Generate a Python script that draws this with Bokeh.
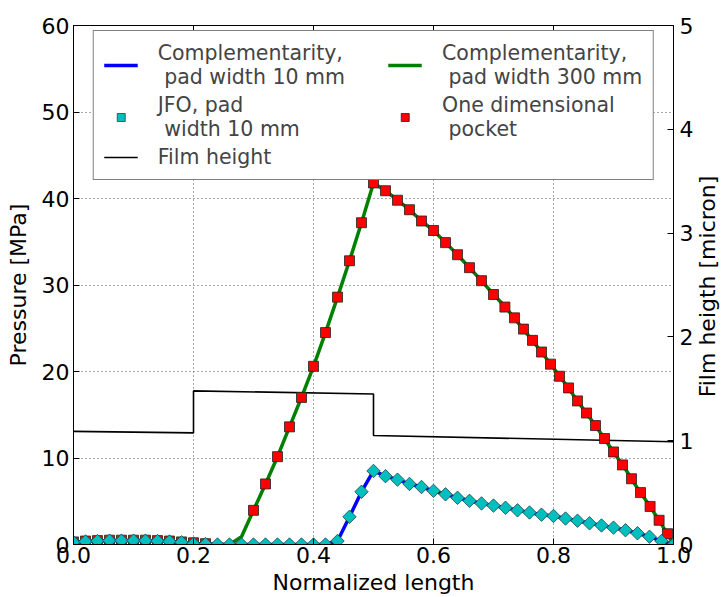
from bokeh.plotting import figure
from bokeh.models import (Range1d, LinearAxis, FixedTicker, Legend, LegendItem,
                          PrintfTickFormatter, Label)
from bokeh.embed import file_html
from bokeh.resources import INLINE
from math import pi

# ---------------- data ----------------
x_grid = [0.00, 0.02, 0.04, 0.06, 0.08, 0.10, 0.12, 0.14, 0.16, 0.18,
          0.20, 0.22, 0.24, 0.26, 0.28, 0.30, 0.32, 0.34, 0.36, 0.38,
          0.40, 0.42, 0.44, 0.46, 0.48, 0.50, 0.52, 0.54, 0.56, 0.58,
          0.60, 0.62, 0.64, 0.66, 0.68, 0.70, 0.72, 0.74, 0.76, 0.78,
          0.80, 0.82, 0.84, 0.86, 0.88, 0.90, 0.92, 0.94, 0.96, 0.98, 1.00]

# Complementarity, pad width 10 mm (blue line)
comp10 = [0.25, 0.35, 0.40, 0.45, 0.45, 0.45, 0.45, 0.40, 0.35, 0.25,
          0.10, 0.05, 0.0, 0.0, 0.0, 0.0, 0.0, 0.0, 0.0, 0.0,
          0.0, 0.0, 0.40, 3.20, 6.10, 8.50, 7.90, 7.50, 7.00, 6.65,
          6.20, 5.80, 5.40, 5.05, 4.75, 4.50, 4.25, 3.95, 3.70, 3.45,
          3.30, 3.00, 2.75, 2.45, 2.20, 1.95, 1.65, 1.30, 0.90, 0.40, 0.0]

# JFO, pad width 10 mm (cyan diamonds)
jfo10 = [0.25, 0.35, 0.40, 0.45, 0.45, 0.45, 0.45, 0.40, 0.35, 0.25,
         0.10, 0.05, 0.0, 0.0, 0.0, 0.0, 0.0, 0.0, 0.0, 0.0,
         0.0, 0.0, 0.40, 3.20, 6.10, 8.50, 7.90, 7.50, 7.00, 6.65,
         6.20, 5.80, 5.40, 5.05, 4.75, 4.50, 4.25, 3.95, 3.70, 3.45,
         3.30, 3.00, 2.75, 2.45, 2.20, 1.95, 1.65, 1.30, 0.90, 0.40, 0.0]

# Complementarity, pad width 300 mm (green line)
comp300 = [0.25, 0.35, 0.40, 0.45, 0.45, 0.45, 0.45, 0.40, 0.35, 0.25,
           0.10, 0.05, 0.0, 0.0, 0.90, 3.95, 7.00, 10.15, 13.60, 17.00,
           20.60, 24.50, 28.60, 32.80, 37.20, 41.80, 40.90, 39.80, 38.70, 37.40,
           36.30, 34.90, 33.50, 32.00, 30.50, 28.90, 27.45, 25.70, 24.00, 22.25,
           20.40, 18.55, 16.60, 14.70, 12.75, 10.70, 8.70, 6.50, 4.50, 2.35, 0.0]

# One dimensional pocket (red squares)
pocket_x = [0.00, 0.02, 0.04, 0.06, 0.08, 0.10, 0.12, 0.14, 0.16, 0.18, 0.20, 0.22,
            0.30, 0.32, 0.34, 0.36, 0.38, 0.40, 0.42, 0.44, 0.46, 0.48, 0.50,
            0.52, 0.54, 0.56, 0.58, 0.60, 0.62, 0.64, 0.66, 0.68, 0.70,
            0.719, 0.735, 0.750, 0.765, 0.780, 0.795, 0.810, 0.825, 0.840, 0.855,
            0.870, 0.885, 0.900, 0.915, 0.930, 0.945, 0.961, 0.976, 0.990]
pocket_p = [0.30, 0.40, 0.45, 0.50, 0.50, 0.50, 0.50, 0.45, 0.40, 0.30, 0.20, 0.10,
            3.95, 7.00, 10.15, 13.60, 17.00, 20.60, 24.50, 28.60, 32.80, 37.20, 41.80,
            40.90, 39.80, 38.70, 37.40, 36.30, 34.90, 33.50, 32.00, 30.50, 28.90,
            27.45, 26.20, 24.90, 23.60, 22.25, 20.85, 19.45, 18.10, 16.60, 15.20,
            13.75, 12.25, 10.70, 9.20, 7.60, 6.00, 4.40, 2.80, 1.25]

# Film height (right axis, micron)
film_x = [0.0, 0.2, 0.2, 0.5, 0.5, 1.0]
film_h = [1.09, 1.075, 1.48, 1.45, 1.05, 0.99]

x_ticks = [0.0, 0.2, 0.4, 0.6, 0.8, 1.0]
p_ticks = [0, 10, 20, 30, 40, 50, 60]
h_ticks = [0, 1, 2, 3, 4, 5]

FONT = "DejaVu Sans"

p = figure(width=721, height=597, output_backend="svg", toolbar_location=None,
           x_range=Range1d(0, 1), y_range=Range1d(0, 60),
           min_border_left=73, min_border_right=45, min_border_top=25,
           min_border_bottom=51)
p.extra_y_ranges = {"h": Range1d(0, 5)}
p.outline_line_color = "black"
p.outline_line_width = 1
p.background_fill_color = "white"
p.border_fill_color = "white"

def style_axis(ax):
    ax.axis_line_color = "black"
    ax.major_tick_in = 6
    ax.major_tick_out = 0
    ax.minor_tick_in = 0
    ax.minor_tick_out = 0
    ax.major_tick_line_color = "black"
    ax.major_label_text_font = FONT
    ax.major_label_text_font_size = "22px"
    ax.major_label_text_color = "black"
    ax.axis_label_text_font = FONT
    ax.axis_label_text_font_size = "22px"
    ax.axis_label_text_font_style = "normal"
    ax.axis_label_text_color = "black"

xa = p.xaxis[0]
xa.ticker = FixedTicker(ticks=x_ticks)
xa.formatter = PrintfTickFormatter(format="%.1f")
xa.axis_label = "Normalized length"
style_axis(xa)
xa.major_label_standoff = 2
xa.axis_label_standoff = 4

ya = p.yaxis[0]
ya.ticker = FixedTicker(ticks=p_ticks)
ya.axis_label = "Pressure [MPa]"
style_axis(ya)
ya.major_label_standoff = 4
ya.axis_label_standoff = 8

ra = LinearAxis(y_range_name="h", ticker=FixedTicker(ticks=h_ticks))
style_axis(ra)
ra.major_label_standoff = 6
p.add_layout(ra, "right")

right_label = Label(x=11, y=258, x_units="screen", y_units="screen",
                    text="Film heigth [micron]", angle=pi / 2,
                    text_align="center", text_baseline="middle",
                    text_font=FONT, text_font_size="22px", text_color="black")
p.add_layout(right_label, "right")

ta = LinearAxis(ticker=FixedTicker(ticks=x_ticks))
style_axis(ta)
ta.major_label_text_font_size = "0px"
ta.major_label_text_alpha = 0
ta.major_label_standoff = 0
p.add_layout(ta, "above")

p.xgrid.ticker = FixedTicker(ticks=x_ticks)
p.ygrid.ticker = FixedTicker(ticks=p_ticks)
for g in (p.xgrid[0], p.ygrid[0]):
    g.grid_line_color = "#555555"
    g.grid_line_dash = "1 3"
    g.grid_line_width = 1

r_film = p.line(film_x, film_h, y_range_name="h", line_color="black", line_width=1.6)
r_green = p.line(x_grid, comp300, line_color="#008000", line_width=3.5)
r_sq = p.scatter(pocket_x, pocket_p, marker="square", size=10,
                 fill_color="#ff0000", line_color="#222222", line_width=0.8)
r_blue = p.line(x_grid, comp10, line_color="#0000ff", line_width=3.5)
r_dia = p.scatter(x_grid, jfo10, marker="square", angle=pi / 4, size=9.5,
                  fill_color="#00bfbf", line_color="#224444", line_width=0.8)

pad = "      "
legend = Legend(items=[
    LegendItem(label="Complementarity," + pad + "\n pad width 10 mm" + pad, renderers=[r_blue]),
    LegendItem(label="JFO, pad\n width 10 mm", renderers=[r_dia]),
    LegendItem(label="Film height", renderers=[r_film]),
    LegendItem(label="Complementarity,\n pad width 300 mm", renderers=[r_green]),
    LegendItem(label="One dimensional\n pocket", renderers=[r_sq]),
], location="top", ncols=2, orientation="vertical")
legend.margin = 5
legend.padding = 10
legend.spacing = 4
legend.glyph_width = 34
legend.label_standoff = 20
legend.label_text_font = FONT
legend.label_text_font_size = "20.5px"
legend.border_line_color = "black"
legend.border_line_width = 1
legend.background_fill_color = "white"
legend.background_fill_alpha = 1
p.add_layout(legend, "center")

open("out.html", "w").write(file_html(p, INLINE))
